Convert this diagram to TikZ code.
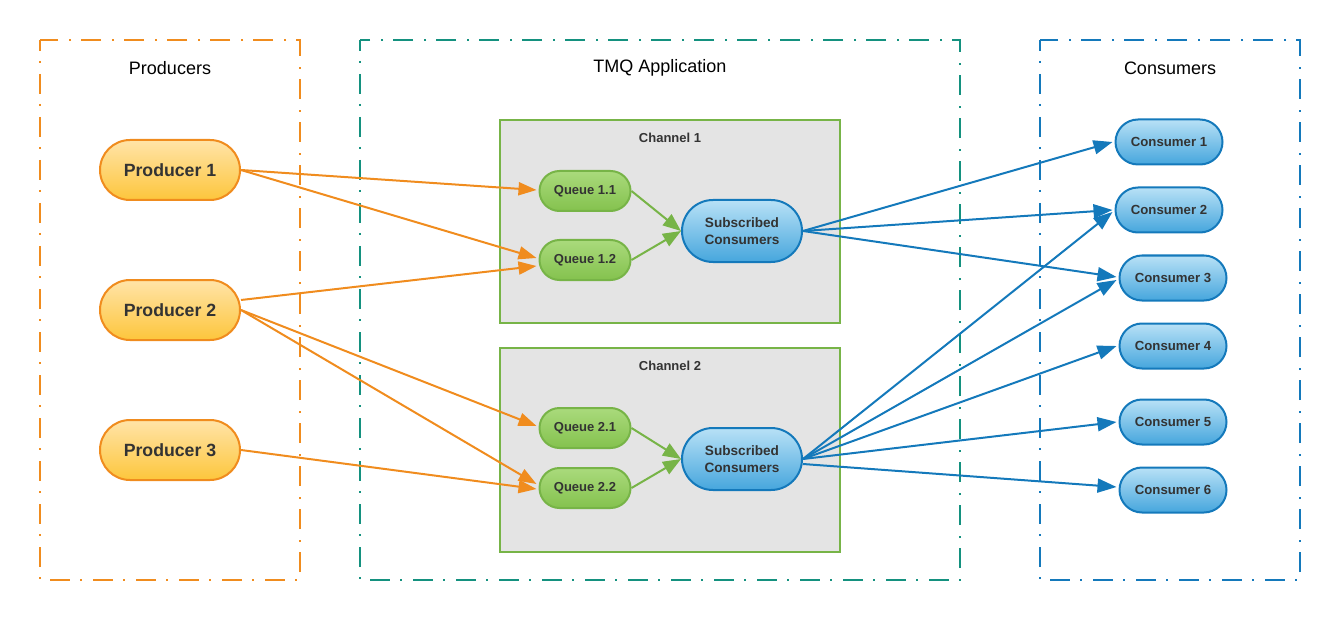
\documentclass[tikz,border=0pt]{standalone}
\usepackage{fontspec}
\setmainfont{Liberation Sans}
\usetikzlibrary{arrows.meta}
\definecolor{orng}{HTML}{F08C1E}
\definecolor{teal1}{HTML}{14917F}
\definecolor{blu}{HTML}{1479BB}
\definecolor{grn}{HTML}{77B447}
\definecolor{txt}{HTML}{333333}
\definecolor{ptop}{HTML}{FFE4A8}
\definecolor{pbot}{HTML}{FDC63C}
\definecolor{qtop}{HTML}{AADA7C}
\definecolor{qbot}{HTML}{84C24E}
\definecolor{ctop}{HTML}{B8E1F6}
\definecolor{cbot}{HTML}{46A6DD}
\begin{document}
\begin{tikzpicture}[x=1pt,y=-1pt,
  grp/.style={line width=2pt,dash pattern=on 20pt off 10pt on 2pt off 11pt,dash phase=9pt},
  grptitle/.style={font=\fontsize{18}{21}\selectfont,text=black},
  chan/.style={draw=grn,line width=2pt,fill=black!10.5},
  chantitle/.style={font=\fontsize{13}{15}\selectfont\bfseries,text=txt},
  pill/.style={rectangle,line width=2pt,inner sep=0pt,text=txt,font=\bfseries,align=center},
  prod/.style={pill,draw=orng,top color=ptop,bottom color=pbot,
    minimum width=140pt,minimum height=60pt,rounded corners=30pt,font=\fontsize{17.7}{21}\selectfont\bfseries},
  queue/.style={pill,draw=grn,top color=qtop,bottom color=qbot,
    minimum width=91pt,minimum height=40pt,rounded corners=20pt,font=\fontsize{13}{15}\selectfont\bfseries},
  subc/.style={pill,draw=blu,top color=ctop,bottom color=cbot,
    minimum width=120pt,minimum height=62pt,rounded corners=31pt,font=\fontsize{13.6}{16.5}\selectfont\bfseries},
  cons/.style={pill,draw=blu,top color=ctop,bottom color=cbot,
    minimum width=107pt,minimum height=45pt,rounded corners=22.5pt,font=\fontsize{13.2}{15}\selectfont\bfseries},
  oarr/.style={draw=orng,line width=2pt,-{Triangle[length=18pt,width=13pt]}},
  garr/.style={draw=grn,line width=2pt,-{Triangle[length=18pt,width=14pt]}},
  barr/.style={draw=blu,line width=2pt,-{Triangle[length=19pt,width=14pt]}}
]
\useasboundingbox (0,0) rectangle (1340,620);
% group boxes
\draw[grp,draw=orng] (40,40) rectangle (300,580);
\draw[grp,draw=teal1] (360,40) rectangle (960,580);
\draw[grp,draw=blu] (1040,40) rectangle (1300,580);
\node[grptitle] (tprod) at (170,68) {Producers};
\node[grptitle] (tapp) at (660,68) {TMQ Application};
\node[grptitle] (tcons) at (1170,68) {Consumers};
% channels
\draw[chan] (500,120) rectangle (840,323);
\draw[chan] (500,348) rectangle (840,552);
\node[chantitle] (tc1) at (670,138) {Channel 1};
\node[chantitle] (tc2) at (670,366) {Channel 2};
% producers
\node[prod] (p1) at (170,170) {Producer 1};
\node[prod] (p2) at (170,310) {Producer 2};
\node[prod] (p3) at (170,450) {Producer 3};
% queues
\node[queue] (q11) at (585,191) {Queue 1.1};
\node[queue] (q12) at (585,260) {Queue 1.2};
\node[queue] (q21) at (585,428) {Queue 2.1};
\node[queue] (q22) at (585,488) {Queue 2.2};
% subscribed
\node[subc] (s1) at (742,231) {Subscribed\\Consumers};
\node[subc] (s2) at (742,459) {Subscribed\\Consumers};
% consumers
\node[cons] (c1) at (1169,142) {Consumer 1};
\node[cons] (c2) at (1169,210) {Consumer 2};
\node[cons] (c3) at (1173,278) {Consumer 3};
\node[cons] (c4) at (1173,346) {Consumer 4};
\node[cons] (c5) at (1173,422) {Consumer 5};
\node[cons] (c6) at (1173,490) {Consumer 6};
% orange edges
\draw[oarr] (p1.east) -- ([xshift=-2pt,yshift=1pt]q11.west);
\draw[oarr] (p1.east) -- ([xshift=-2pt,yshift=2pt]q12.west);
\draw[oarr] ([yshift=10pt]p2.east) -- ([xshift=-2pt,yshift=-6pt]q12.west);
\draw[oarr] (p2.east) -- ([xshift=-2pt,yshift=2pt]q21.west);
\draw[oarr] (p2.east) -- ([xshift=-2pt,yshift=4pt]q22.west);
\draw[oarr] (p3.east) -- ([xshift=-2pt,yshift=-1pt]q22.west);
% green edges
\draw[garr] (q11.east) -- (s1.west);
\draw[garr] (q12.east) -- (s1.west);
\draw[garr] (q21.east) -- (s2.west);
\draw[garr] (q22.east) -- (s2.west);
% blue edges
\draw[barr] (s1.east) -- ([xshift=-2pt]c1.west);
\draw[barr] (s1.east) -- ([xshift=-2pt]c2.west);
\draw[barr] (s1.east) -- ([xshift=-2pt,yshift=1pt]c3.west);
\draw[barr] (s2.east) -- ([xshift=-2pt,yshift=-2pt]c2.west);
\draw[barr] (s2.east) -- ([xshift=-2pt,yshift=-2pt]c3.west);
\draw[barr] (s2.east) -- ([xshift=-2pt]c4.west);
\draw[barr] (s2.east) -- ([xshift=-2pt]c5.west);
\draw[barr] ([yshift=-5pt]s2.east) -- ([xshift=-2pt,yshift=3pt]c6.west);
\end{tikzpicture}
\end{document}
